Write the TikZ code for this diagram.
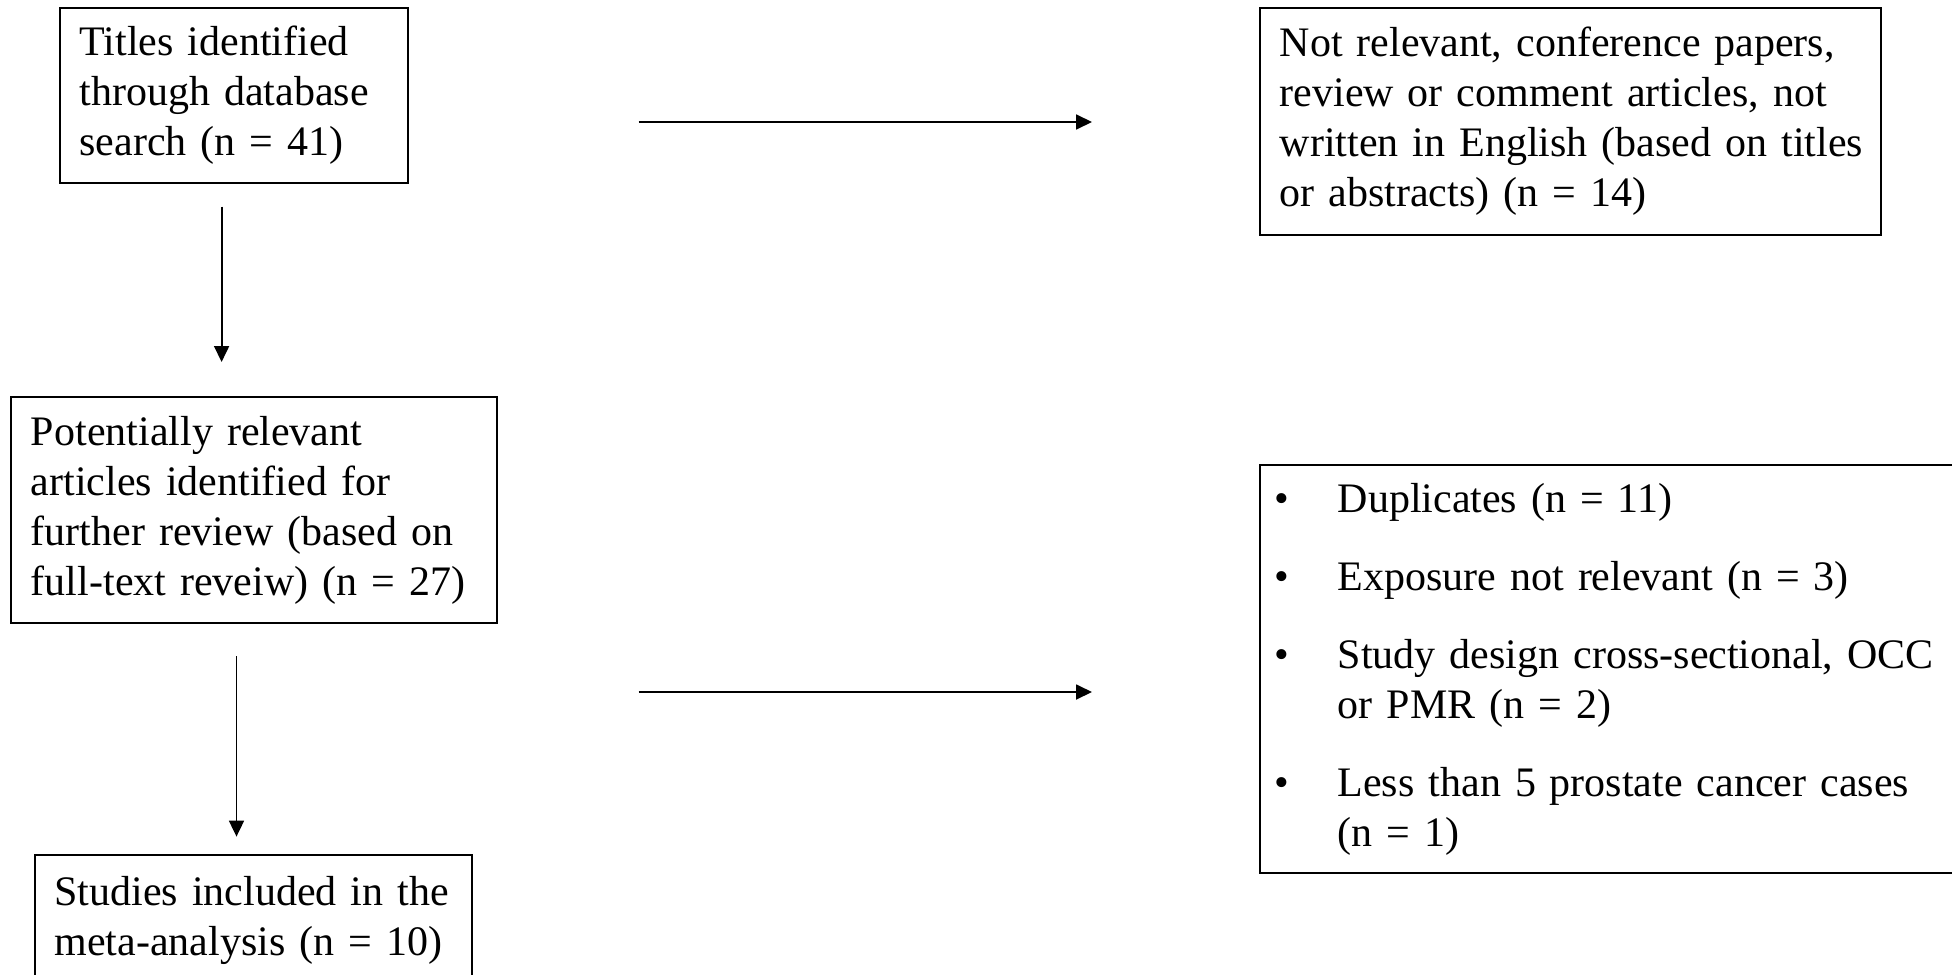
\documentclass[tikz,border=0pt]{standalone}
\usepackage{fontspec}
\setmainfont{Liberation Serif}
\usepackage{tikz}
\usetikzlibrary{arrows.meta}

\tikzset{
  flowbox/.style={draw, line width=1pt, anchor=north west, align=left,
    inner xsep=10pt, inner ysep=0pt, font=\fontsize{21}{25}\selectfont},
  flowarrow/.style={line width=0.9pt, -{Triangle[length=8pt,width=7.5pt]}}
}

\begin{document}
\begin{tikzpicture}[x=0.5pt,y=0.5pt,yscale=-1,xscale=1]
%set diagram to the size of the reference
\useasboundingbox (0,0) rectangle (1952,974);

%Shape: Rectangle [titles]
\node[flowbox, text width=154pt, minimum height=87pt] (titles) at (58.5,7.5)
  {\begin{tabular}{@{}l@{}}Titles identified\\through database\\search (n = 41)\end{tabular}};
%Shape: Rectangle [potential]
\node[flowbox, text width=223pt, minimum height=113pt] (potential) at (10,396)
  {\begin{tabular}{@{}l@{}}Potentially relevant\\articles identified for\\further review (based on\\full-text reveiw) (n = 27)\end{tabular}};
%Shape: Rectangle [included] (runs past the bottom edge)
\node[flowbox, text width=198.5pt, minimum height=65pt] (included) at (33.6,854)
  {\begin{tabular}{@{}l@{}}Studies included in the\\meta-analysis (n = 10)\end{tabular}};
%Shape: Rectangle [notrel]
\node[flowbox, text width=290.5pt, minimum height=113pt] (notrel) at (1258.7,7.5)
  {\begin{tabular}{@{}l@{}}Not relevant, conference papers,\\review or comment articles, not\\written in English (based on titles\\or abstracts) (n = 14)\end{tabular}};
%Shape: Rectangle [excluded] (runs past the right edge)
\node[flowbox, inner xsep=7.5pt, text width=335pt, minimum height=204pt] (excluded) at (1258.7,464)
  {\begin{tabular}{@{}p{31.5pt}@{}l@{}}
   \textbullet & Duplicates (n = 11)\\[14pt]
   \textbullet & Exposure not relevant (n = 3)\\[14pt]
   \textbullet & Study design cross-sectional, OCC\\
               & or PMR (n = 2)\\[14pt]
   \textbullet & Less than 5 prostate cancer cases\\
               & (n = 1)
   \end{tabular}};

% arrow ends
\coordinate (d1s) at (221.6,206.7);
\coordinate (d1e) at (221.6,362);
\coordinate (d2s) at (236.5,656);
\coordinate (d2e) at (236.5,836.6);
\coordinate (r1s) at (638.7,122);
\coordinate (r1e) at (1092,122);
\coordinate (r2s) at (638.7,692);
\coordinate (r2e) at (1092,692);

%Straight Lines
\draw[flowarrow] (d1s) -- (d1e);
%Straight Lines
\draw[flowarrow] (d2s) -- (d2e);
%Straight Lines
\draw[flowarrow] (r1s) -- (r1e);
%Straight Lines
\draw[flowarrow] (r2s) -- (r2e);

\end{tikzpicture}
\end{document}
